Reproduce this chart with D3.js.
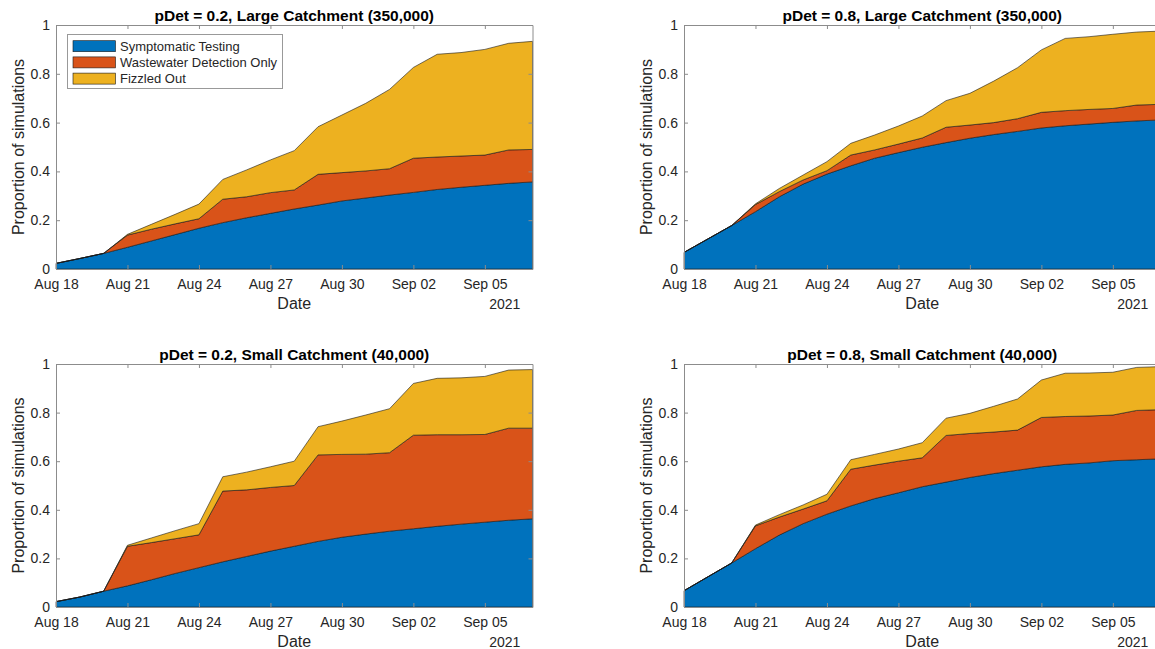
<!DOCTYPE html>
<html>
<head>
<meta charset="utf-8">
<script src="https://cdn.jsdelivr.net/npm/d3@7"></script>
<style>
  html, body { margin: 0; padding: 0; background: #fff; overflow: hidden; }
  svg { display: block; }
  text { font-family: "Liberation Sans", Arial, Helvetica, sans-serif; }
</style>
</head>
<body>
<svg id="chart" width="1155" height="649"></svg>
<script>
// Daily dates, Aug 18 – Sep 07 2021
const startDate = new Date(2021, 7, 18);
const dates = d3.range(21).map(i => d3.timeDay.offset(startDate, i));

const seriesNames = ["Symptomatic Testing", "Wastewater Detection Only", "Fizzled Out"];
const seriesKeys = ["symptomatic", "wastewater", "fizzled"];
const seriesColors = ["#0072BD", "#D95319", "#EDB120"];

const yTicks = [0, 0.2, 0.4, 0.6, 0.8, 1];
const yTickLabels = ["0", "0.2", "0.4", "0.6", "0.8", "1"];
const xTickDates = d3.range(0, 21, 3).map(i => d3.timeDay.offset(startDate, i));
const yearLabel = "2021";

// pDet = 0.2, large catchment (350,000)
const largeLowSymptomatic = [0.023,0.043,0.064,0.089,0.115,0.141,0.167,0.19,0.21,0.228,0.246,0.262,0.279,0.291,0.303,0.314,0.326,0.335,0.343,0.351,0.357];
const largeLowWastewater  = [0,0,0,0.05,0.048,0.044,0.039,0.096,0.086,0.085,0.078,0.126,0.116,0.111,0.108,0.14,0.133,0.128,0.124,0.137,0.133];
const largeLowFizzled     = [0,0,0,0.003,0.02,0.039,0.06,0.081,0.11,0.134,0.161,0.195,0.236,0.277,0.325,0.372,0.421,0.424,0.433,0.437,0.443];

// pDet = 0.8, large catchment (350,000)
const largeHighSymptomatic = [0.068,0.123,0.178,0.235,0.296,0.348,0.389,0.423,0.454,0.477,0.499,0.518,0.536,0.551,0.564,0.578,0.587,0.594,0.601,0.607,0.611];
const largeHighWastewater  = [0,0,0,0.029,0.021,0.017,0.014,0.044,0.034,0.035,0.038,0.063,0.054,0.049,0.052,0.064,0.062,0.06,0.057,0.065,0.064];
const largeHighFizzled     = [0,0,0,0.003,0.013,0.02,0.037,0.048,0.061,0.074,0.09,0.109,0.13,0.17,0.209,0.256,0.296,0.298,0.304,0.299,0.3];

// pDet = 0.2, small catchment (40,000)
const smallLowSymptomatic = [0.022,0.041,0.065,0.087,0.112,0.138,0.162,0.186,0.208,0.23,0.25,0.27,0.287,0.3,0.312,0.322,0.332,0.341,0.349,0.357,0.363];
const smallLowWastewater  = [0,0,0,0.163,0.153,0.143,0.135,0.291,0.274,0.262,0.25,0.356,0.341,0.329,0.323,0.385,0.377,0.368,0.361,0.379,0.373];
const smallLowFizzled     = [0,0,0,0.004,0.019,0.033,0.046,0.059,0.073,0.085,0.1,0.116,0.137,0.161,0.181,0.213,0.232,0.234,0.239,0.239,0.241];

// pDet = 0.8, small catchment (40,000)
const smallHighSymptomatic = [0.067,0.124,0.181,0.24,0.296,0.343,0.382,0.416,0.446,0.47,0.495,0.514,0.533,0.549,0.563,0.577,0.587,0.593,0.602,0.606,0.61];
const smallHighWastewater  = [0,0,0,0.094,0.074,0.06,0.055,0.151,0.138,0.13,0.119,0.192,0.181,0.171,0.165,0.203,0.197,0.193,0.188,0.203,0.202];
const smallHighFizzled     = [0,0,0,0.003,0.01,0.017,0.027,0.039,0.044,0.05,0.062,0.071,0.083,0.106,0.128,0.154,0.178,0.177,0.176,0.177,0.177];

const panelTitles = [
  "pDet = 0.2, Large Catchment (350,000)",
  "pDet = 0.8, Large Catchment (350,000)",
  "pDet = 0.2, Small Catchment (40,000)",
  "pDet = 0.8, Small Catchment (40,000)"
];

const panelSeries = [
  [largeLowSymptomatic, largeLowWastewater, largeLowFizzled],
  [largeHighSymptomatic, largeHighWastewater, largeHighFizzled],
  [smallLowSymptomatic, smallLowWastewater, smallLowFizzled],
  [smallHighSymptomatic, smallHighWastewater, smallHighFizzled]
];

// Plot-box geometry for the 2x2 grid
const cols = [{ x0: 56, x1: 532.5 }, { x0: 684, x1: 1160.5 }];
const rows = [{ y0: 25, y1: 269 }, { y0: 364, y1: 607 }];

const svg = d3.select("#chart");
const axisColor = "#8c8c8c";
const textColor = "#262626";
const tickLen = 4;

panelSeries.forEach((series, p) => {
  const col = cols[p % 2], row = rows[Math.floor(p / 2)];
  const x = d3.scaleTime().domain([dates[0], dates[dates.length - 1]]).range([col.x0, col.x1]);
  const y = d3.scaleLinear().domain([0, 1]).range([row.y1, row.y0]);

  const table = dates.map((d, i) => {
    const r = { date: d };
    seriesKeys.forEach((k, s) => { r[k] = series[s][i]; });
    return r;
  });
  const stacked = d3.stack().keys(seriesKeys)(table);

  const area = d3.area()
    .x(d => x(d.data.date))
    .y0(d => y(d[0]))
    .y1(d => y(d[1]));

  const g = svg.append("g");

  g.selectAll("path.layer")
    .data(stacked)
    .join("path")
    .attr("class", "layer")
    .attr("d", area)
    .attr("fill", (d, i) => seriesColors[i])
    .attr("stroke", "#1a1a1a")
    .attr("stroke-width", 0.6)
    .attr("stroke-linejoin", "round");

  // Axes with inward ticks on all four sides (box on)
  const bottom = d3.axisBottom(x).tickValues(xTickDates).tickSizeInner(-tickLen).tickSizeOuter(0)
    .tickFormat(d3.timeFormat("%b %d")).tickPadding(10);
  const top = d3.axisTop(x).tickValues(xTickDates).tickSizeInner(-tickLen).tickSizeOuter(0).tickFormat("");
  const left = d3.axisLeft(y).tickValues(yTicks).tickSizeInner(-tickLen).tickSizeOuter(0)
    .tickFormat((d, i) => yTickLabels[i]).tickPadding(6);
  const right = d3.axisRight(y).tickValues(yTicks).tickSizeInner(-tickLen).tickSizeOuter(0).tickFormat("");

  const styleAxis = sel => {
    sel.select(".domain").attr("stroke", axisColor).attr("stroke-width", 1);
    sel.selectAll(".tick line").attr("stroke", axisColor);
    sel.selectAll(".tick text").attr("fill", textColor).style("font-size", "14px")
      .style("font-family", "'Liberation Sans', Arial, sans-serif");
  };

  g.append("g").attr("transform", `translate(0,${row.y1})`).call(bottom).call(styleAxis);
  g.append("g").attr("transform", `translate(0,${row.y0})`).call(top).call(styleAxis);
  g.append("g").attr("transform", `translate(${col.x0},0)`).call(left).call(styleAxis);
  g.append("g").attr("transform", `translate(${col.x1},0)`).call(right).call(styleAxis);

  const cx = (col.x0 + col.x1) / 2;

  g.append("text")
    .attr("x", cx).attr("y", row.y0 - 4)
    .attr("text-anchor", "middle")
    .style("font-size", "15.5px").style("font-weight", "bold")
    .attr("fill", "#000")
    .text(panelTitles[p]);

  g.append("text")
    .attr("x", cx).attr("y", row.y1 + 40)
    .attr("text-anchor", "middle")
    .style("font-size", "16px")
    .attr("fill", textColor)
    .text("Date");

  g.append("text")
    .attr("x", x(xTickDates[xTickDates.length - 1]) + 20).attr("y", row.y1 + 40)
    .attr("text-anchor", "middle")
    .style("font-size", "14px")
    .attr("fill", textColor)
    .text(yearLabel);

  g.append("text")
    .attr("transform", `translate(${col.x0 - 32},${(row.y0 + row.y1) / 2}) rotate(-90)`)
    .attr("text-anchor", "middle")
    .style("font-size", "16px")
    .attr("fill", textColor)
    .text("Proportion of simulations");

  // Legend in the first panel only
  if (p === 0) {
    const lg = g.append("g");
    lg.append("rect")
      .attr("x", 67.5).attr("y", 34.5).attr("width", 215).attr("height", 54)
      .attr("fill", "#fff").attr("stroke", "#999").attr("stroke-width", 1);
    seriesNames.forEach((name, i) => {
      const cy = 46.2 + i * 16.2;
      lg.append("rect")
        .attr("x", 73).attr("y", cy - 5.5).attr("width", 42.5).attr("height", 11)
        .attr("fill", seriesColors[i]).attr("stroke", "#1a1a1a").attr("stroke-width", 0.6);
      lg.append("text")
        .attr("x", 120).attr("y", cy).attr("dy", "0.35em")
        .style("font-size", "13px").attr("fill", textColor)
        .text(name);
    });
  }
});
</script>
</body>
</html>
